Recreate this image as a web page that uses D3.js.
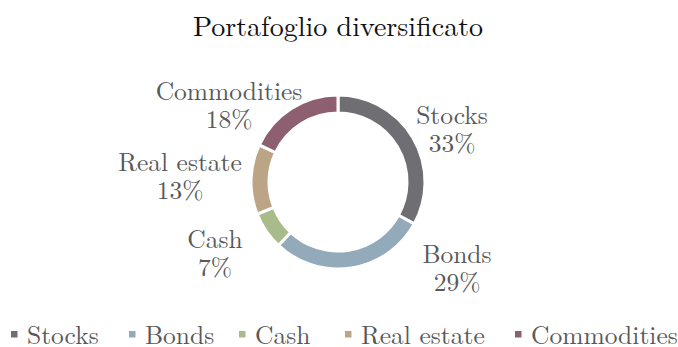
<!DOCTYPE html>
<html>
<head>
<meta charset="utf-8">
<script src="https://cdn.jsdelivr.net/npm/d3@7"></script>
<style>
  html, body { margin: 0; padding: 0; background: #fff; }
  svg { display: block; }
</style>
</head>
<body>
<svg id="chart" width="678" height="347"></svg>
<script>
// Portfolio allocation (percent)
const categories = ["Stocks", "Bonds", "Cash", "Real estate", "Commodities"];
const shares = [33, 29, 7, 13, 18];
const colors = ["#6e6e73", "#93aaba", "#a9bb8a", "#bca587", "#8e5f70"];
const title = "Portafoglio diversificato";

// Layout
const FONT = "'Latin Modern Roman', 'Liberation Serif', serif";
const cx = 338, cy = 182;
const outerR = 87, innerR = 69;
// Data label anchors relative to the ring centre (first line baseline)
const labelAnchor = {
  "Stocks": [114, -58],
  "Bonds": [119, 81],
  "Cash": [-123, 66],
  "Real estate": [-158, -11],
  "Commodities": [-109, -82]
};

const svg = d3.select("#chart");
const data = categories.map((c, i) => ({ name: c, value: shares[i], color: colors[i] }));
const color = d3.scaleOrdinal().domain(categories).range(colors);

svg.append("text")
  .attr("x", cx).attr("y", 36)
  .attr("text-anchor", "middle")
  .style("font-family", FONT)
  .attr("font-size", 28)
  .attr("fill", "#111")
  .text(title);

const pie = d3.pie().value(d => d.value).sort(null);
const arc = d3.arc().innerRadius(innerR).outerRadius(outerR);

const g = svg.append("g").attr("transform", `translate(${cx},${cy})`);
const arcs = pie(data);

g.selectAll("path.slice")
  .data(arcs)
  .join("path")
  .attr("class", "slice")
  .attr("d", arc)
  .attr("fill", d => color(d.data.name))
  .attr("stroke", "#fff")
  .attr("stroke-width", 3)
  .attr("stroke-linejoin", "miter");

const labels = g.selectAll("text.lbl")
  .data(arcs)
  .join("text")
  .attr("class", "lbl")
  .attr("text-anchor", "middle")
  .style("font-family", FONT)
  .attr("font-size", 25.5)
  .attr("fill", "#595959")
  .attr("transform", d => {
    const a = labelAnchor[d.data.name];
    return `translate(${a[0]},${a[1]})`;
  });
labels.append("tspan").attr("x", 0).attr("y", 0).text(d => d.data.name);
labels.append("tspan").attr("x", 0).attr("y", 28).text(d => d.data.value + "%");

// Legend
const legendX = [11, 129, 239, 345, 515];
const leg = svg.append("g");
const items = leg.selectAll("g.item")
  .data(data)
  .join("g")
  .attr("class", "item")
  .attr("transform", (d, i) => `translate(${legendX[i]},0)`);
items.append("rect")
  .attr("x", 0).attr("y", 331)
  .attr("width", 6.5).attr("height", 6.5)
  .attr("fill", d => d.color);
items.append("text")
  .attr("x", 16).attr("y", 344)
  .style("font-family", FONT)
  .attr("font-size", 25.5)
  .attr("fill", "#595959")
  .text(d => d.name);
</script>
</body>
</html>
